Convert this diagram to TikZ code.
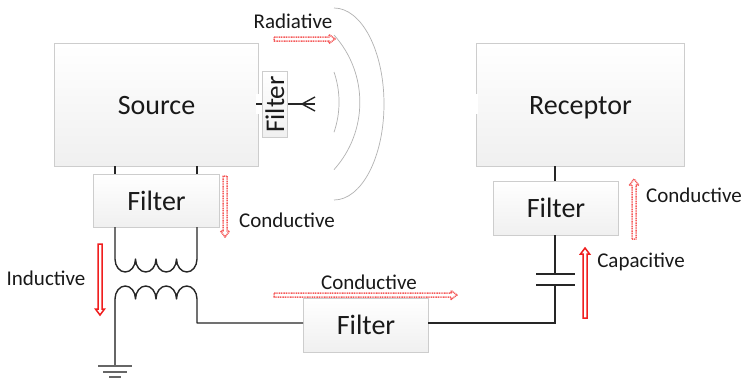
\documentclass[tikz,border=0pt]{standalone}
\usepackage{fontspec}
\setmainfont{Carlito}
\usetikzlibrary{shadows}
\definecolor{boxedge}{RGB}{205,205,205}
\definecolor{solidred}{RGB}{240,30,30}
\definecolor{dotred}{RGB}{245,90,90}
\tikzset{
  x=1pt,y=-1pt,
  box/.style={draw=boxedge,line width=1pt,top color=white,bottom color=black!6,
    drop shadow={shadow xshift=0.8pt,shadow yshift=-0.8pt,opacity=.18,fill=black},
    inner sep=0pt,font=\fontsize{28}{30}\selectfont,text=black!90,anchor=north west,
    text height=18pt,text depth=0pt},
  wire/.style={line width=1.4pt,black!85,line join=miter},
  gndwire/.style={line width=1.4pt,black!60},
  wave/.style={line width=.7pt,black!30},
  lab/.style={font=\fontsize{21}{23}\selectfont,text=black!90,inner sep=0pt},
  solidarrow/.style={draw=solidred,line width=1.5pt,fill=white,line join=miter},
  dotarrow/.style={draw=dotred,line width=1.5pt,fill=white,line join=round,dash pattern=on 1pt off .7pt},
}
% hollow arrow: #1 style, #2 start, #3 rotation (0 = to the right, -90 = down on screen), #4 length
\newcommand{\hollowarrow}[4]{%
  \begin{scope}[shift={#2},rotate=#3]
    \path[#1] (0,-2) -- ({#4-6},-2) -- ({#4-6},-4.5) -- (#4,0) -- ({#4-6},4.5) -- ({#4-6},2) -- (0,2) -- cycle;
  \end{scope}}
\begin{document}
\begin{tikzpicture}
\useasboundingbox (0,0) rectangle (744,378);
\fill[white] (0,0) rectangle (744,378);
% radiation arcs
\coordinate (w1) at (334,8);
\coordinate (w2) at (334,35);
\coordinate (w3) at (334,72);
\draw[wave] (w1) arc[start angle=90,end angle=-90,x radius=50pt,y radius=96pt];
\draw[wave] (w2) arc[start angle=42,end angle=-42,radius=100.6pt];
\draw[wave] (w3) arc[start angle=19,end angle=-19,radius=92.5pt];
% boxes
\node[box,minimum width=204pt,minimum height=123pt] (source) at (54,43) {Source};
\node[box,minimum width=208pt,minimum height=123pt] (receptor) at (476,43) {Receptor};
\node[box,minimum width=126pt,minimum height=53pt] (f1) at (93,174) {Filter};
\node[box,minimum width=125pt,minimum height=54pt] (f2) at (493,181) {Filter};
\node[box,minimum width=125pt,minimum height=54pt] (f3) at (303,298) {Filter};
\node[box,minimum width=25pt,minimum height=66pt] (f4) at (262,71) {};
\node[font=\fontsize{27}{30}\selectfont,text=black!90,rotate=90,inner sep=0pt,text height=18pt,text depth=0pt] (f4t) at (f4.center) {Filter};
% gaps on the box edges
\fill[white] (256,94) rectangle (260,114);
\fill[white] (474,94) rectangle (478,114);
% source to filter
\coordinate (s1) at (115,166);
\coordinate (s2) at (197,166);
\coordinate (f1a) at (115,174);
\coordinate (f1b) at (197,174);
\draw[wire] (s1) -- (f1a);
\draw[wire] (s2) -- (f1b);
% transformer upper
\coordinate (u1) at (115,227);
\coordinate (u2) at (197,227);
\draw[wire,line join=round] (u1) -- (115,259)
  arc[start angle=180,end angle=360,x radius=10.25pt,y radius=13pt]
  arc[start angle=180,end angle=360,x radius=10.25pt,y radius=13pt]
  arc[start angle=180,end angle=360,x radius=10.25pt,y radius=13pt]
  arc[start angle=180,end angle=360,x radius=10.25pt,y radius=13pt]
  -- (u2);
% transformer lower
\coordinate (g) at (115,366);
\coordinate (f3w) at (303,323);
\coordinate (f3e) at (428,323);
\draw[wire,line join=round] (f3w) -| (197,299)
  arc[start angle=0,end angle=180,x radius=10.25pt,y radius=13pt]
  arc[start angle=0,end angle=180,x radius=10.25pt,y radius=13pt]
  arc[start angle=0,end angle=180,x radius=10.25pt,y radius=13pt]
  arc[start angle=0,end angle=180,x radius=10.25pt,y radius=13pt];
\draw[gndwire] (g) -- (115,299);
% ground
\draw[gndwire] (98,366) -- (132,366);
\draw[gndwire] (103,372) -- (127,372);
\draw[gndwire] (109,377) -- (121,377);
% antenna
\coordinate (a0) at (256,104);
\coordinate (a1) at (262,104);
\coordinate (a2) at (315,104);
\draw[wire] (a0) -- (a1);
\draw[wire] (f4.east |- a0) -- (a2);
\draw[wire] (315,97) -- (302,104) -- (315,111);
% right side
\coordinate (c1) at (555,274);
\coordinate (c2) at (555,285);
\coordinate (f2t) at (555,181);
\coordinate (f2b) at (555,235);
\coordinate (rb) at (555,166);
\draw[wire] (f3e) -- (555,323) -- (c2);
\draw[wire] (c1) -- (f2b);
\draw[wire] (f2t) -- (rb);
\draw[wire] (536,274) -- (575,274);
\draw[wire] (536,285) -- (575,285);
% flow arrows
\hollowarrow{dotarrow}{(274,39)}{0}{61}
\hollowarrow{dotarrow}{(225,176)}{-90}{61}
\hollowarrow{dotarrow}{(274,295)}{0}{183}
\hollowarrow{dotarrow}{(634,239)}{90}{60}
\hollowarrow{solidarrow}{(100,244)}{-90}{71}
\hollowarrow{solidarrow}{(585,318)}{90}{70}
% labels
\node[lab] (l1) at (293,21) {Radiative};
\node[lab] (l2) at (287,220) {Conductive};
\node[lab] (l3) at (46,278) {Inductive};
\node[lab] (l4) at (369,282) {Conductive};
\node[lab] (l5) at (694,195) {Conductive};
\node[lab] (l6) at (641,262) {Capacitive};
\end{tikzpicture}
\end{document}
